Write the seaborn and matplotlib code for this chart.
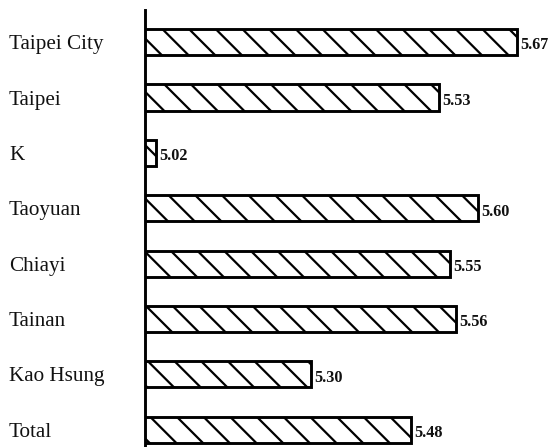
import matplotlib
matplotlib.use('Agg')
import matplotlib.pyplot as plt
import seaborn as sns
import pandas as pd

# Dados
cities = ['Taipei City', 'Taipei', 'K', 'Taoyuan', 'Chiayi', 'Tainan', 'Kao Hsung', 'Total']
scores = [5.67, 5.53, 5.02, 5.60, 5.55, 5.56, 5.30, 5.48]
score_labels = ['5.67', '5.53', '5.02', '5.60', '5.55', '5.56', '5.30', '5.48']

df = pd.DataFrame({'city': cities, 'score': scores})

sns.set_style('white')
plt.rcParams['font.family'] = ['Liberation Serif', 'DejaVu Serif']
plt.rcParams['hatch.linewidth'] = 1.0

DPI = 160
fig = plt.figure(figsize=(551 / DPI, 447 / DPI), dpi=DPI)
ax = fig.add_axes([145 / 551, 0, 1 - 145 / 551, 437 / 447])

sns.barplot(data=df, x='score', y='city', orient='h', color='white',
            edgecolor='black', linewidth=1.3, width=0.47, ax=ax)
for bar in ax.patches:
    bar.set_hatch('\\\\')
    bar.set_facecolor('white')

ax.set_xlim(5.0, 5.732)
ax.set_ylim(7.31, -0.58)

# Valores no fim das barras
for i, v in enumerate(scores):
    ax.annotate(score_labels[i], (v, i), xytext=(1.5, -1.5), textcoords='offset points',
                ha='left', va='center', fontsize=7.3, fontweight='bold', color='#111111')

# Rótulos das cidades alinhados à esquerda
ax.set_yticks([])
ax.set_xticks([])
ax.set_xlabel('')
ax.set_ylabel('')
trans = matplotlib.transforms.blended_transform_factory(fig.transFigure, ax.transData)
for i, c in enumerate(cities):
    ax.text(9 / 551, i, c, transform=trans, ha='left', va='center_baseline',
            fontsize=9.5, color='#111111')

for s in ['top', 'right', 'bottom']:
    ax.spines[s].set_visible(False)
ax.spines['left'].set_linewidth(1.3)
ax.spines['left'].set_color('black')

fig.savefig('out.png', dpi=DPI)
plt.close(fig)
